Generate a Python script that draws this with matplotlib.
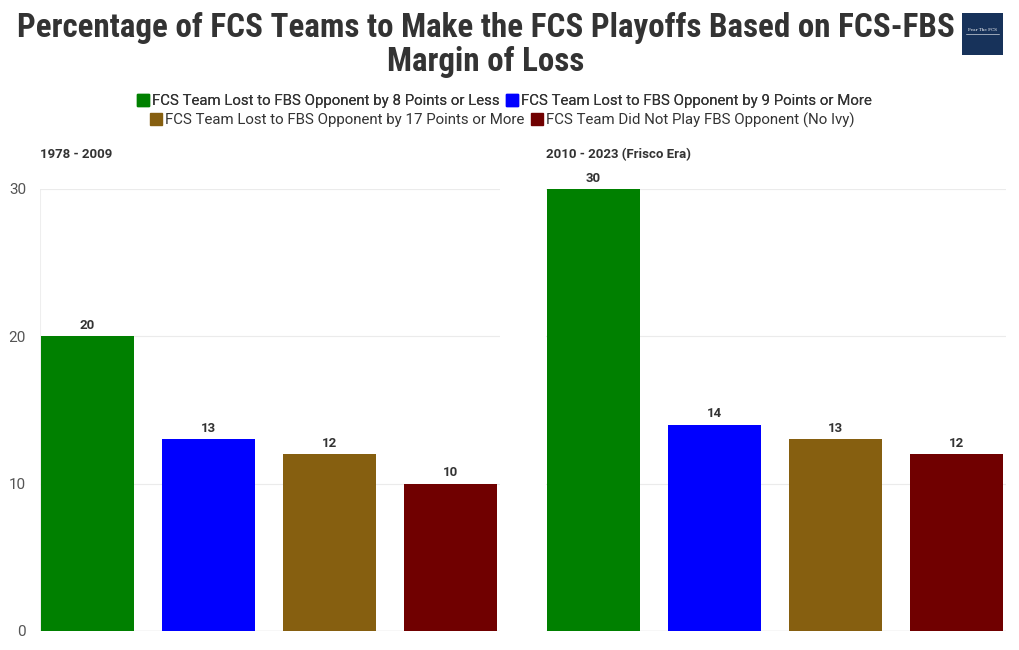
import matplotlib
matplotlib.use("Agg")
import matplotlib.pyplot as plt
from matplotlib.lines import Line2D

title = "Percentage of FCS Teams to Make the FCS Playoffs Based on FCS-FBS\nMargin of Loss"
categories = ["FCS Team Lost to FBS Opponent by 8 Points or Less",
              "FCS Team Lost to FBS Opponent by 9 Points or More",
              "FCS Team Lost to FBS Opponent by 17 Points or More",
              "FCS Team Did Not Play FBS Opponent (No Ivy)"]
colors = ["#008000", "#0000ff", "#865f10", "#700000"]
panel_titles = ["1978 - 2009", "2010 - 2023 (Frisco Era)"]
values_early = [20, 13, 12, 10]
values_frisco = [30, 14, 13, 12]
yticks = [0, 10, 20, 30]

plt.rcParams['font.family'] = ['Roboto', 'DejaVu Sans']

fig = plt.figure(figsize=(10.2, 6.5), dpi=100)
fig.patch.set_facecolor("white")

ax1 = fig.add_axes([40/1020, 19/650, 460/1020, 442/650])
ax2 = fig.add_axes([546/1020, 19/650, 460/1020, 442/650])

x = list(range(len(categories)))
for ax, vals, ttl in [(ax1, values_early, panel_titles[0]), (ax2, values_frisco, panel_titles[1])]:
    bars = ax.bar(x, vals, width=0.77, color=colors, zorder=2)
    for b, v in zip(bars, vals):
        ax.text(b.get_x() + b.get_width()/2, v + 0.3, str(v), ha="center", va="bottom",
                fontsize=9.5, fontweight="bold", color="#333333")
    ax.set_xlim(-0.393, 3.409)
    ax.set_ylim(0, 30)
    ax.set_yticks(yticks)
    ax.grid(axis="y", color="#ebebeb", linewidth=0.8, zorder=0)
    ax.set_xticks([])
    for s in ["top", "right", "bottom", "left"]:
        ax.spines[s].set_visible(False)
    ax.axhline(0, color="#dddddd", linewidth=1, zorder=1)
    ax.tick_params(axis="y", length=0, labelsize=11, labelcolor="#555555", pad=10)
    ax.set_facecolor("none")
    ax.text(0, 1.077, ttl, transform=ax.transAxes, fontsize=9.5, fontweight="bold",
            color="#333333", ha="left", va="center")

ax1.axvline(-0.393, color="#eeeeee", linewidth=0.8, zorder=0)
ax2.tick_params(axis="y", labelleft=False)

fig.text(486/1020, 1 - 45/650, title, ha="center", va="center", fontsize=23.8,
         fontweight="bold", color="#333333", linespacing=1.05,
         family=['Roboto Condensed', 'Liberation Sans Narrow', 'Roboto', 'DejaVu Sans'])

def handles(idx):
    return [Line2D([0], [0], marker="s", linestyle="none", markersize=8,
                   markerfacecolor=colors[i], markeredgecolor=colors[i]) for i in idx]

leg1 = fig.legend(handles([0, 1]), categories[:2], loc="center", ncol=2,
                  bbox_to_anchor=(505/1020, 1 - 101/650), frameon=False, fontsize=10.8,
                  handlelength=0.6, handletextpad=0.3, columnspacing=0.5, labelcolor="#333333")
fig.add_artist(leg1)
fig.legend(handles([2, 3]), categories[2:], loc="center", ncol=2,
           bbox_to_anchor=(503/1020, 1 - 120/650), frameon=False, fontsize=10.8,
           handlelength=0.6, handletextpad=0.3, columnspacing=0.5, labelcolor="#333333")

logo = fig.add_axes([962/1020, 1 - 55/650, 41/1020, 42/650])
logo.set_facecolor("#17325a")
logo.set_xticks([])
logo.set_yticks([])
for s in logo.spines.values():
    s.set_visible(False)
logo.text(0.5, 0.6, "Fear The FCS", color="white", fontsize=3, ha="center", va="center",
          family="DejaVu Serif")
logo.plot([0.1, 0.9], [0.5, 0.5], color="white", linewidth=0.4)
logo.set_xlim(0, 1)
logo.set_ylim(0, 1)

fig.savefig("out.png", dpi=100)
